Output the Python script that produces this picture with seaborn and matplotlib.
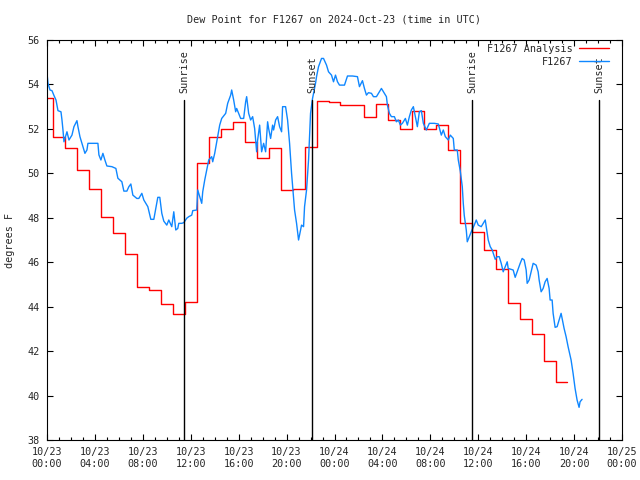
import pandas as pd
import matplotlib.pyplot as plt
import matplotlib.dates as mdates
import matplotlib.transforms as mtransforms
from matplotlib.lines import Line2D
import seaborn as sns

# Data

start = pd.Timestamp('2024-10-23 00:00')

# hourly analysis values (F1267 Analysis), step plot
red_hour = list(range(44)) + [43.4]
red_value = [53.38, 51.62, 51.13, 50.15, 49.28, 48.05, 47.3, 46.37, 44.87, 44.75,
             44.1, 43.67, 44.2, 50.45, 51.65, 51.98, 52.3, 51.43, 50.7, 51.13,
             49.25, 49.3, 51.2, 53.27, 53.22, 53.07, 53.07, 52.52, 53.1, 52.4,
             51.98, 52.8, 51.98, 52.16, 51.03, 47.75, 47.35, 46.55, 45.68, 44.15,
             43.44, 42.77, 41.55, 40.6, 40.6]

# observations (F1267), minutes since start
obs_minute = [0, 5, 15, 25, 35, 45, 55, 70, 75, 80, 85, 95, 100, 110, 125, 135, 150, 155,
              165, 175, 190, 200, 205, 230, 255, 260, 270, 280, 290, 300, 325, 345, 355,
              375, 385, 400, 410, 420, 430, 450, 460, 475, 485, 500, 505, 520, 535, 545,
              555, 565, 575, 585, 600, 610, 625, 635, 645, 655, 660, 675, 685, 700, 710,
              725, 730, 750, 755, 765, 775, 780, 790, 800, 810, 825, 830, 840, 855, 865,
              875, 895, 905, 920, 925, 935, 945, 950, 960, 970, 985, 995, 1000, 1010,
              1020, 1030, 1040, 1050, 1055, 1065, 1075, 1085, 1095, 1105, 1110, 1120,
              1130, 1135, 1145, 1155, 1165, 1175, 1180, 1195, 1205, 1215, 1225, 1240,
              1250, 1260, 1265, 1275, 1285, 1290, 1300, 1310, 1320, 1330, 1345, 1350,
              1360, 1375, 1385, 1400, 1410, 1425, 1435, 1445, 1455, 1465, 1490, 1505,
              1530, 1555, 1565, 1575, 1580, 1590, 1600, 1610, 1625, 1635, 1650, 1660,
              1675, 1685, 1700, 1705, 1715, 1725, 1740, 1750, 1760, 1770, 1780, 1795,
              1805, 1815, 1825, 1835, 1845, 1855, 1865, 1875, 1885, 1900, 1915, 1940,
              1960, 1975, 1985, 1995, 2010, 2020, 2035, 2040, 2055, 2060, 2070, 2080,
              2085, 2090, 2100, 2105, 2115, 2125, 2140, 2150, 2160, 2175, 2185, 2195,
              2200, 2210, 2220, 2230, 2245, 2255, 2265, 2275, 2285, 2295, 2305, 2310,
              2325, 2335, 2345, 2355, 2370, 2380, 2390, 2400, 2405, 2415, 2425, 2435,
              2450, 2460, 2465, 2475, 2485, 2495, 2505, 2515, 2520, 2530, 2535, 2545,
              2555, 2565, 2575, 2580, 2590, 2600, 2610, 2625, 2635, 2645, 2655, 2665,
              2670, 2680]
obs_value = [54.5, 54.05, 53.75, 53.72, 53.5, 53.3, 52.82, 52.77, 52.4, 51.95, 51.42, 51.72,
             51.87, 51.5, 51.72, 52.1, 52.37, 52.1, 51.65, 51.35, 50.9, 51.05, 51.35, 51.35,
             51.35, 50.83, 50.6, 50.9, 50.6, 50.33, 50.3, 50.22, 49.78, 49.62, 49.2, 49.2,
             49.4, 49.52, 49.02, 48.87, 48.87, 49.1, 48.8, 48.57, 48.5, 47.93, 47.93, 48.42,
             48.92, 48.92, 48.2, 47.85, 47.67, 47.9, 47.6, 48.27, 47.45, 47.52, 47.75, 47.75,
             47.78, 47.98, 48.05, 48.12, 48.32, 48.35, 49.25, 48.95, 48.65, 49.17, 49.7,
             50.15, 50.6, 50.75, 50.52, 50.9, 51.65, 52.17, 52.47, 52.7, 53.15, 53.52, 53.75,
             53.3, 52.77, 52.92, 52.7, 52.47, 52.47, 53.22, 53.45, 52.7, 52.4, 52.55, 52.02,
             50.97, 51.5, 52.17, 50.97, 51.35, 50.97, 52.32, 52.02, 51.57, 52.17, 51.95,
             52.4, 52.55, 52.1, 51.87, 53.0, 53.0, 52.4, 51.35, 50.0, 48.35, 47.75, 47.0,
             47.22, 47.67, 47.6, 48.5, 49.25, 50.6, 52.7, 53.37, 54.05, 54.35, 54.8, 55.17,
             55.17, 54.87, 54.57, 54.42, 54.12, 54.42, 54.12, 53.97, 53.97, 54.38, 54.38,
             54.35, 53.9, 54.08, 54.17, 53.82, 53.52, 53.63, 53.6, 53.45, 53.45, 53.6, 53.82,
             53.67, 53.45, 53.07, 52.7, 52.55, 52.55, 52.32, 52.4, 52.17, 52.25, 52.47,
             52.17, 52.55, 52.85, 53.0, 52.55, 52.1, 52.77, 52.82, 52.25, 51.95, 52.25,
             52.25, 52.22, 51.72, 51.95, 51.65, 51.5, 51.72, 51.57, 51.05, 51.05, 50.6,
             50.1, 49.4, 48.65, 48.1, 47.45, 46.92, 47.15, 47.37, 47.67, 47.9, 47.67, 47.6,
             47.75, 47.9, 47.6, 47.0, 46.7, 46.55, 46.13, 46.25, 46.25, 45.95, 45.57, 45.8,
             46.02, 45.72, 45.68, 45.65, 45.32, 45.57, 45.95, 46.17, 46.1, 45.65, 45.05,
             45.2, 45.57, 45.95, 45.87, 45.57, 45.2, 44.67, 44.82, 45.12, 45.27, 44.82,
             44.3, 44.3, 43.7, 43.07, 43.1, 43.4, 43.7, 43.47, 43.02, 42.65, 42.2, 41.6,
             41.0, 40.32, 39.8, 39.47, 39.72, 39.83]

event_times = ['2024-10-23 11:27', '2024-10-23 22:06', '2024-10-24 11:27', '2024-10-24 22:06']
event_labels = ['Sunrise', 'Sunset', 'Sunrise', 'Sunset']

y_ticks = [38, 40, 42, 44, 46, 48, 50, 52, 54, 56]

red_df = pd.DataFrame({'time': start + pd.to_timedelta(red_hour, unit='h'), 'dewpoint': red_value})
obs_df = pd.DataFrame({'time': start + pd.to_timedelta(obs_minute, unit='min'), 'dewpoint': obs_value})

sns.set_style('ticks')
plt.rcParams['font.family'] = ['DejaVu Sans Mono', 'DejaVu Sans']
plt.rcParams['font.size'] = 7.3

red = '#ff0000'
blue = '#0f87ff'

fig = plt.figure(figsize=(6.4, 4.8), dpi=100)
ax = fig.add_axes([47 / 640, 40 / 480, 575 / 640, 400 / 480])

sns.lineplot(data=red_df, x='time', y='dewpoint', ax=ax, color=red, linewidth=1.0,
             drawstyle='steps-mid', label='F1267 Analysis')
sns.lineplot(data=obs_df, x='time', y='dewpoint', ax=ax, color=blue, linewidth=1.0,
             label='F1267')

# sunrise / sunset markers
trans = mtransforms.blended_transform_factory(ax.transData, ax.transAxes)
for t, lab in zip(event_times, event_labels):
    tt = pd.Timestamp(t)
    ax.axvline(tt, ymin=0, ymax=0.85, color='black', linewidth=1.0)
    ax.text(mdates.date2num(tt) + 0.002, 0.868, lab, rotation=90, ha='center', va='bottom',
            transform=trans, fontsize=7.3)

ax.set_xlim(start, start + pd.Timedelta(hours=48))
ax.set_ylim(38, 56)
ax.set_yticks(y_ticks)
ax.xaxis.set_major_locator(mdates.HourLocator(byhour=[0, 4, 8, 12, 16, 20]))
ax.xaxis.set_minor_locator(mdates.HourLocator())
ax.xaxis.set_major_formatter(mdates.DateFormatter('%m/%d\n%H:%M'))

ax.tick_params(which='both', direction='in', top=True, right=True, color='black', width=0.8)
ax.tick_params(which='major', length=4.5, pad=5, labelsize=7.3)
ax.tick_params(which='minor', length=2.2)
for s in ax.spines.values():
    s.set_visible(True)
    s.set_color('black')
    s.set_linewidth(0.8)

ax.set_xlabel('')
ax.set_ylabel('')
fig.text(10 / 640, 0.5, 'degrees F', rotation=90, ha='center', va='center', fontsize=7.3)
fig.text(334 / 640, 1 - 19 / 480, 'Dew Point for F1267 on 2024-Oct-23 (time in UTC)',
         ha='center', va='center', fontsize=7.3)

handles = [Line2D([], [], color=red, linewidth=1.0), Line2D([], [], color=blue, linewidth=1.0)]
ax.legend(handles, ['F1267 Analysis', 'F1267'], loc='upper right', frameon=False,
          markerfirst=False, handlelength=3.0, handletextpad=0.6, labelspacing=0.25,
          borderpad=0, borderaxespad=0, fontsize=7.3,
          bbox_to_anchor=(609 / 640, 1 - 44 / 480), bbox_transform=fig.transFigure)

fig.savefig('out.png', dpi=100)
plt.close(fig)
